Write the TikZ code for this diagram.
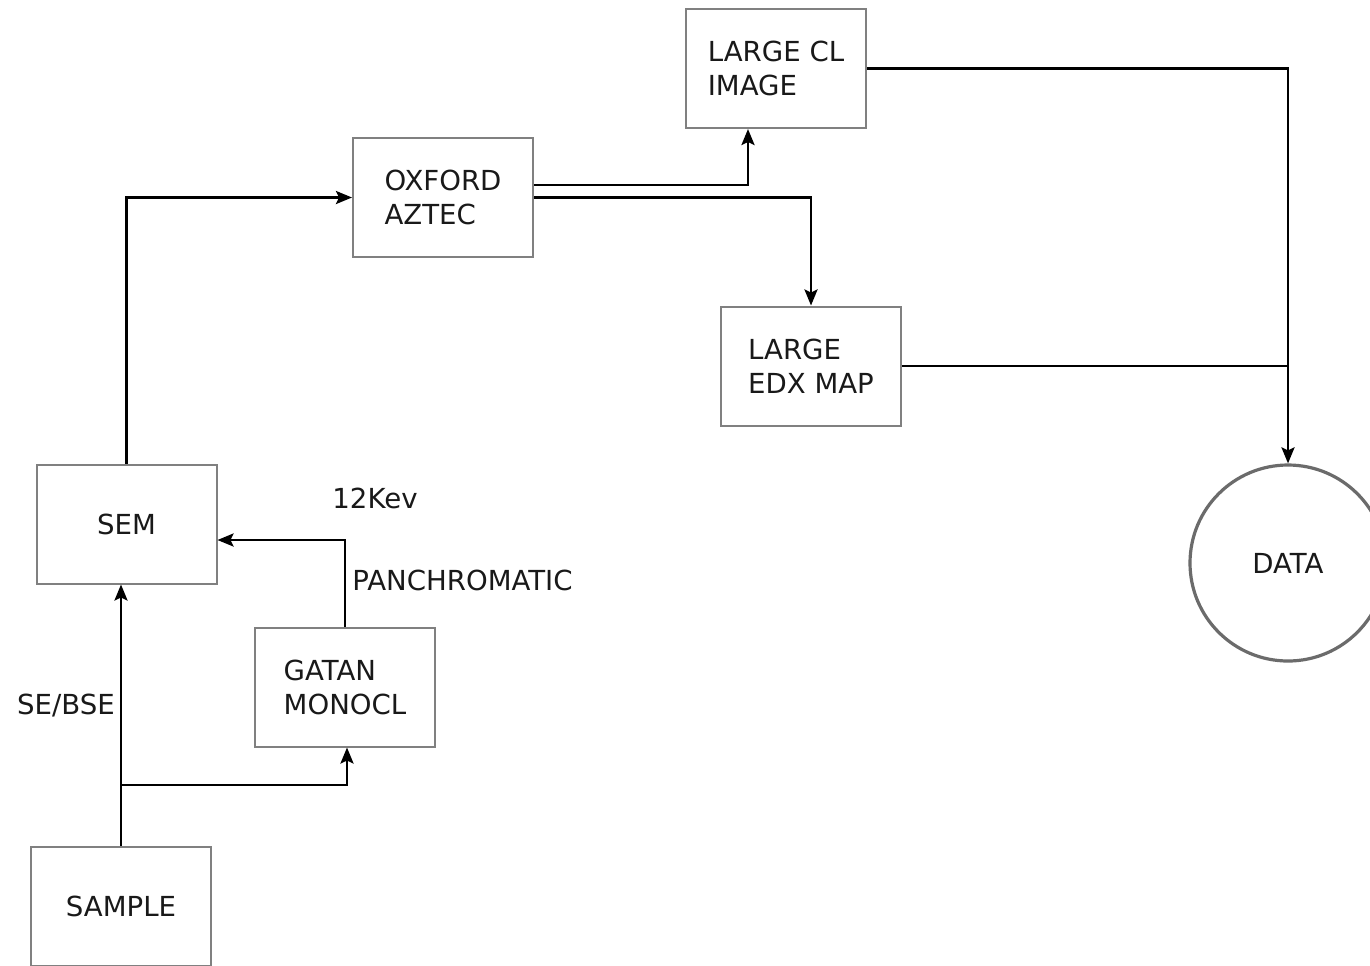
\documentclass[tikz,border=0pt]{standalone}
\usepackage{fontspec}
\setmainfont{DejaVu Sans}
\usetikzlibrary{arrows.meta}
\begin{document}
\begin{tikzpicture}[x=0.5pt,y=-0.5pt,
  txt/.style={text=black!90,font=\fontsize{13.8}{17}\selectfont},
  box/.style={txt,draw=black!50,line width=1pt,minimum width=90pt,minimum height=59.5pt,inner sep=0pt,align=left},
  lbl/.style={txt,inner sep=0pt},
  conn/.style={draw=black,line width=1.3pt,-{Stealth[length=8pt,width=6.5pt,inset=1.5pt]}},
  plain/.style={draw=black,line width=1.3pt}]
\clip (0,0) rectangle (1370,965);
\fill[white] (0,0) rectangle (1370,965);
\node[box] (cl) at (776,68.5) {LARGE CL\\IMAGE};
\node[box] (oxf) at (443,197.5) {OXFORD\\AZTEC};
\node[box] (edx) at (811,366) {LARGE\\EDX MAP};
\node[box] (sem) at (126.5,524) {SEM};
\node[box] (gatan) at (345,687) {GATAN\\MONOCL};
\node[box] (sample) at (121,906.5) {SAMPLE};
\node[txt,circle,draw=black!58,line width=1.6pt,minimum size=98pt,inner sep=0pt] (data) at (1288,563) {DATA};
\node[lbl] (kev) at (375,498) {12Kev};
\node[lbl,anchor=west] (pan) at (352,580) {PANCHROMATIC};
\node[lbl] (sebse) at (66,706) {SE/BSE};
\coordinate (br) at (121,785);
\draw[conn] (sem.north) |- (oxf.west);
\draw[conn] ([yshift=6.25pt]oxf.east) -| ([xshift=-14pt]cl.south);
\draw[conn] (oxf.east) -| (edx.north);
\draw[conn] (cl.east) -| (data.north);
\draw[plain] (edx.east) -- (edx.east -| data.north);
\draw[conn] (sample.north) -- (sample.north |- sem.south);
\draw[conn] (br) -| ([xshift=1pt]gatan.south);
\draw[conn] (gatan.north) |- ([yshift=-8pt]sem.east);
\end{tikzpicture}
\end{document}
